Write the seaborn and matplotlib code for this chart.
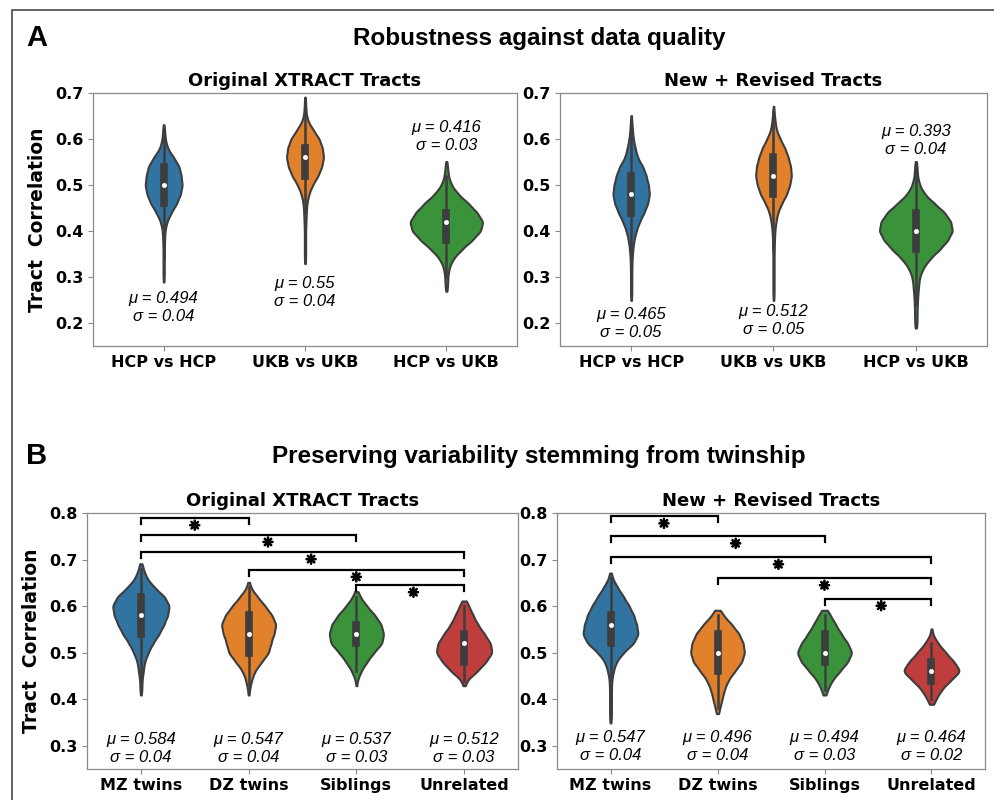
import numpy as np
import pandas as pd
import matplotlib
matplotlib.use("Agg")
import matplotlib.pyplot as plt
import matplotlib.patheffects as pe
import seaborn as sns
from matplotlib.lines import Line2D

# ---------------- data ----------------
# Each violin is given as a frequency table: tract-correlation levels and the
# relative number of subjects at each level.
cats_a = ["HCP vs HCP", "UKB vs UKB", "HCP vs UKB"]
cats_b = ["MZ twins", "DZ twins", "Siblings", "Unrelated"]

levels_a = [0.20, 0.22, 0.24, 0.26, 0.28, 0.30, 0.32, 0.34, 0.36, 0.38, 0.40, 0.42, 0.44,
            0.46, 0.48, 0.50, 0.52, 0.54, 0.56, 0.58, 0.60, 0.62, 0.64, 0.66, 0.68]
levels_b = [0.36, 0.38, 0.40, 0.42, 0.44, 0.46, 0.48, 0.50, 0.52, 0.54, 0.56, 0.58, 0.60,
            0.62, 0.64, 0.66, 0.68]

# Panel A, Original XTRACT tracts
a_orig_hcp = [0, 0, 0, 0, 0, 10, 10, 10, 10, 15, 20, 50, 120, 210, 270, 300, 280, 250, 160,
              60, 25, 15, 0, 0, 0]
a_orig_ukb = [0, 0, 0, 0, 0, 0, 0, 10, 10, 10, 10, 15, 20, 30, 60, 120, 210, 270, 300, 280,
              230, 130, 40, 15, 10]
a_orig_cross = [0, 0, 0, 0, 10, 12, 22, 55, 125, 210, 280, 300, 250, 180, 95, 40, 16, 10, 0,
                0, 0, 0, 0, 0, 0]
# Panel A, New + Revised tracts
a_new_hcp = [0, 0, 0, 10, 10, 10, 12, 15, 27, 45, 80, 135, 210, 270, 300, 280, 245, 190, 100,
             65, 35, 20, 10, 0, 0]
a_new_ukb = [0, 0, 0, 10, 10, 10, 10, 10, 12, 16, 22, 40, 70, 135, 220, 270, 300, 285, 245,
             190, 110, 45, 25, 10, 0]
a_new_cross = [10, 10, 12, 16, 22, 30, 60, 115, 195, 260, 300, 285, 235, 150, 70, 30, 13, 10,
               0, 0, 0, 0, 0, 0, 0]

# Panel B, Original XTRACT tracts
b_orig_mz = [0, 0, 0, 10, 12, 25, 38, 75, 125, 190, 240, 280, 300, 250, 140, 60, 25]
b_orig_dz = [0, 0, 0, 10, 30, 65, 140, 220, 240, 275, 300, 255, 180, 95, 20, 0, 0]
b_orig_sib = [0, 0, 0, 0, 10, 50, 115, 190, 285, 300, 275, 205, 115, 40, 0, 0, 0]
b_orig_unr = [0, 0, 0, 0, 25, 140, 230, 300, 280, 215, 145, 95, 50, 0, 0, 0, 0]
# Panel B, New + Revised tracts
b_new_mz = [10, 10, 10, 10, 13, 30, 60, 135, 250, 300, 280, 250, 200, 140, 75, 20, 0]
b_new_dz = [0, 25, 50, 75, 115, 190, 270, 300, 285, 240, 160, 65, 0, 0, 0, 0, 0]
b_new_sib = [0, 0, 0, 33, 80, 165, 250, 300, 250, 180, 120, 65, 0, 0, 0, 0, 0]
b_new_unr = [0, 0, 45, 100, 190, 300, 230, 145, 65, 10, 0, 0, 0, 0, 0, 0, 0]

# reported statistics
mu_a_orig = ["0.494", "0.55", "0.416"]
sd_a_orig = ["0.04", "0.04", "0.03"]
mu_a_new = ["0.465", "0.512", "0.393"]
sd_a_new = ["0.05", "0.05", "0.04"]
mu_b_orig = ["0.584", "0.547", "0.537", "0.512"]
sd_b_orig = ["0.04", "0.04", "0.03", "0.03"]
mu_b_new = ["0.547", "0.496", "0.494", "0.464"]
sd_b_new = ["0.04", "0.04", "0.03", "0.02"]

# significance comparisons
sig_pairs = [("MZ twins", "DZ twins"), ("MZ twins", "Siblings"), ("MZ twins", "Unrelated"),
             ("DZ twins", "Unrelated"), ("Siblings", "Unrelated")]
sig_labels = ["✳", "✳", "✳", "✳", "✳"]

# ---------------- layout / style ----------------
W, H = 995, 800
fig = plt.figure(figsize=(W / 100, H / 100), dpi=100)

def rect(l, t, r, b):
    return [l / W, 1 - b / H, (r - l) / W, (b - t) / H]

ax_al = fig.add_axes(rect(93, 93, 517, 346))
ax_ar = fig.add_axes(rect(560, 93, 987, 346))
ax_bl = fig.add_axes(rect(87, 513, 518, 769))
ax_br = fig.add_axes(rect(557, 513, 985, 769))

pal = sns.color_palette("tab10")
line_col = "#3d3d3d"
stat_font = dict(fontsize=12, style="italic", family="Liberation Sans")
KDE_BW = 0.011  # kernel bandwidth in correlation units


def draw_panel(ax, cats, levels, series, widths, mus, sds, label_y, ylim, yticks, title, ylabel):
    for i, (cat, freq) in enumerate(zip(cats, series)):
        vals = np.repeat(levels, freq)
        df = pd.DataFrame({"group": [cat] * len(vals), "r": vals})
        factor = KDE_BW / np.std(vals, ddof=1)
        sns.violinplot(data=df, x="group", y="r", order=cats, color=pal[i],
                       width=widths[i], density_norm="width", cut=1, bw_method=factor,
                       linewidth=1.5, linecolor=line_col, inner="box", gridsize=200,
                       inner_kws=dict(box_width=5.5, whis_width=1.8, marker="o",
                                      markersize=3.2, markeredgewidth=0.4),
                       ax=ax)
    for i, (m, s) in enumerate(zip(mus, sds)):
        ax.text(i, label_y[i], f"μ = {m}\nσ = {s}", ha="center", va="center",
                linespacing=1.25, **stat_font)
    ax.set_ylim(*ylim)
    ax.set_xlim(-0.5, len(cats) - 0.5)
    ax.set_yticks(yticks)
    ax.set_yticklabels([f"{t:.1f}" for t in yticks])
    ax.set_xlabel("")
    ax.set_ylabel(ylabel, fontsize=13.5, fontweight="bold", family="DejaVu Sans", labelpad=6)
    ax.set_title(title, fontsize=13, fontweight="bold", family="DejaVu Sans", pad=5)
    for lab in ax.get_xticklabels() + ax.get_yticklabels():
        lab.set_fontweight("bold")
        lab.set_fontsize(11.5)
        lab.set_family("DejaVu Sans")
    for sp in ax.spines.values():
        sp.set_visible(True)
        sp.set_color("#8a8a8a")
        sp.set_linewidth(0.9)
    ax.tick_params(axis="both", length=3.5, width=0.8, color="#8a8a8a", pad=3)


def draw_sig(ax, cats, heights, star_dx):
    for k, ((c1, c2), lab) in enumerate(zip(sig_pairs, sig_labels)):
        x1, x2 = cats.index(c1), cats.index(c2)
        y = heights[k]
        ax.plot([x1, x1, x2, x2], [y - 0.013, y, y, y - 0.013], color="black", lw=1.6,
                solid_joinstyle="miter")
        ax.text((x1 + x2) / 2 + star_dx[k], y - 0.018, lab, ha="center", va="center",
                fontsize=9.5, fontweight="bold", family="DejaVu Sans", color="black",
                path_effects=[pe.withStroke(linewidth=1.3, foreground="black")])


draw_panel(ax_al, cats_a, levels_a, [a_orig_hcp, a_orig_ukb, a_orig_cross], [0.26, 0.26, 0.51],
           mu_a_orig, sd_a_orig, [0.234, 0.267, 0.6065], (0.15, 0.7),
           [0.2, 0.3, 0.4, 0.5, 0.6, 0.7], "Original XTRACT Tracts", "Tract  Correlation")
draw_panel(ax_ar, cats_a, levels_a, [a_new_hcp, a_new_ukb, a_new_cross], [0.255, 0.25, 0.51],
           mu_a_new, sd_a_new, [0.1985, 0.2055, 0.5975], (0.15, 0.7),
           [0.2, 0.3, 0.4, 0.5, 0.6, 0.7], "New + Revised Tracts", "")
draw_panel(ax_bl, cats_b, levels_b, [b_orig_mz, b_orig_dz, b_orig_sib, b_orig_unr],
           [0.52, 0.50, 0.50, 0.51], mu_b_orig, sd_b_orig, [0.295] * 4, (0.25, 0.8),
           [0.3, 0.4, 0.5, 0.6, 0.7, 0.8], "Original XTRACT Tracts", "Tract  Correlation")
draw_panel(ax_br, cats_b, levels_b, [b_new_mz, b_new_dz, b_new_sib, b_new_unr],
           [0.51, 0.50, 0.50, 0.51], mu_b_new, sd_b_new, [0.299] * 4, (0.25, 0.8),
           [0.3, 0.4, 0.5, 0.6, 0.7, 0.8], "New + Revised Tracts", "")

draw_sig(ax_bl, cats_b, [0.789, 0.753, 0.716, 0.678, 0.645], [0, 0.18, 0.08, 0, 0.03])
draw_sig(ax_br, cats_b, [0.793, 0.750, 0.705, 0.660, 0.616], [0, 0.17, 0.07, 0, 0.03])

# figure-level headings and frame
head = dict(fontsize=17.5, fontweight="bold", family="Liberation Sans", ha="center", va="center")
fig.text(539 / W, 1 - 38 / H, "Robustness against data quality", **head)
fig.text(539 / W, 1 - 457 / H, "Preserving variability stemming from twinship", **head)
letter = dict(fontsize=21, fontweight="bold", family="Liberation Sans", ha="left", va="center")
fig.text(26 / W, 1 - 38 / H, "A", **letter)
fig.text(26 / W, 1 - 456 / H, "B", **letter)
fig.add_artist(Line2D([12 / W, 12 / W, 1.0], [0.0, 1 - 10 / H, 1 - 10 / H],
                      transform=fig.transFigure, color="#555555", lw=1.3))

fig.savefig("out.png", dpi=100)
